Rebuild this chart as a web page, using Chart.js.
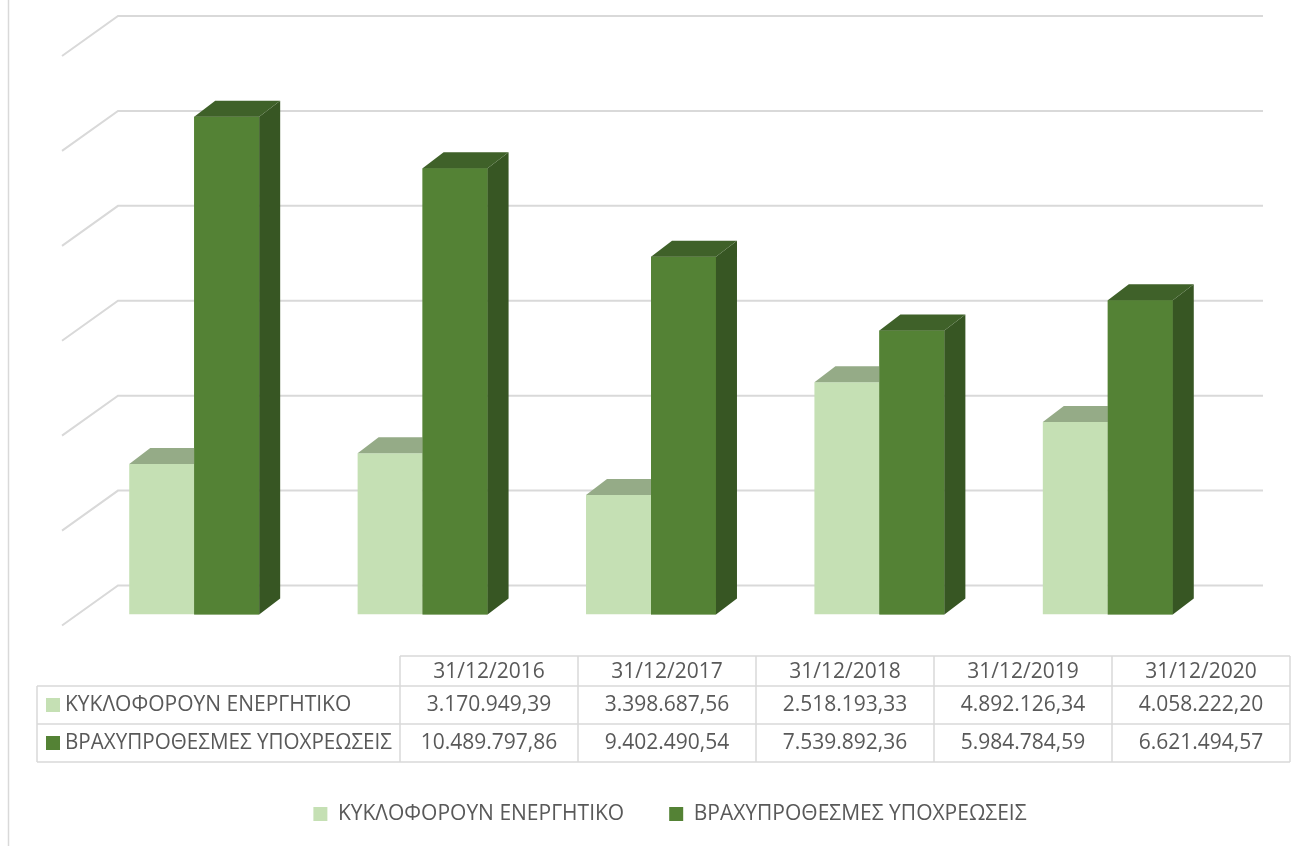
<!DOCTYPE html>
<html lang="el">
<head>
<meta charset="utf-8">
<title>Κυκλοφορούν ενεργητικό - Βραχυπρόθεσμες υποχρεώσεις</title>
<script src="https://cdn.jsdelivr.net/npm/chart.js@4.4.1/dist/chart.umd.min.js"></script>
<style>
  html, body { margin: 0; padding: 0; background: #fff; }
  #wrap { width: 1310px; height: 846px; }
</style>
</head>
<body>
<div id="wrap"><canvas id="chart" width="1310" height="846"></canvas></div>
<script>
// Data (values as printed in the table under the chart)
const categories = ['31/12/2016', '31/12/2017', '31/12/2018', '31/12/2019', '31/12/2020'];
const seriesNames = ['ΚΥΚΛΟΦΟΡΟΥΝ ΕΝΕΡΓΗΤΙΚΟ', 'ΒΡΑΧΥΠΡΟΘΕΣΜΕΣ ΥΠΟΧΡΕΩΣΕΙΣ'];
const currentAssets = [3170949.39, 3398687.56, 2518193.33, 4892126.34, 4058222.20];
const shortTermLiabilities = [10489797.86, 9402490.54, 7539892.36, 5984784.59, 6621494.57];
const yMax = 12000000;
const yStep = 2000000;

// colours: front / top / side
const shades = [
  { front: '#c5e0b4', top: '#95ab87', side: '#8aa37b' },
  { front: '#548235', top: '#3f6129', side: '#375623' }
];
const TEXT = '#595959';
const GRID = '#d9d9d9';
const FONT = '"Open Sans", "Noto Sans", sans-serif';

// 3D offsets
const DX = 21, DY = -16;

// 3.170.949,39 style
function fmt(v) {
  const [i, d] = v.toFixed(2).split('.');
  return i.replace(/\B(?=(\d{3})+(?!\d))/g, '.') + ',' + d;
}

function barBox(el) {
  const p = el.getProps(['x', 'y', 'base', 'width'], true);
  return { l: p.x - p.width / 2, r: p.x + p.width / 2, y: p.y, base: p.base };
}

function topFace(ctx, b, color) {
  ctx.fillStyle = color;
  ctx.beginPath();
  ctx.moveTo(b.l, b.y);
  ctx.lineTo(b.l + DX, b.y + DY);
  ctx.lineTo(b.r + DX, b.y + DY);
  ctx.lineTo(b.r, b.y);
  ctx.closePath();
  ctx.fill();
}

function sideFace(ctx, b, color) {
  ctx.fillStyle = color;
  ctx.beginPath();
  ctx.moveTo(b.r, b.y);
  ctx.lineTo(b.r + DX, b.y + DY);
  ctx.lineTo(b.r + DX, b.base + DY);
  ctx.lineTo(b.r, b.base);
  ctx.closePath();
  ctx.fill();
}

// back wall gridlines + frame line on the left
const backWall = {
  id: 'backWall',
  beforeDraw(chart) {
    const ctx = chart.ctx;
    ctx.save();
    ctx.strokeStyle = GRID;
    ctx.lineWidth = 1.5;
    ctx.beginPath();
    ctx.moveTo(8.5, 0);
    ctx.lineTo(8.5, chart.height);
    ctx.stroke();
    ctx.restore();
  },
  beforeDatasetsDraw(chart) {
    const { ctx, chartArea, scales: { y } } = chart;
    const x0 = chartArea.left + 38, x1 = chartArea.right + 41;
    ctx.save();
    ctx.strokeStyle = GRID;
    ctx.lineWidth = 2;
    y.ticks.forEach(t => {
      const py = y.getPixelForValue(t.value) - 29;
      ctx.beginPath();
      ctx.moveTo(x0 - 56, py + 40);
      ctx.lineTo(x0, py);
      ctx.lineTo(x1, py);
      ctx.stroke();
    });
    ctx.restore();
  }
};

// top and side faces of the columns
const columns3d = {
  id: 'columns3d',
  afterDatasetsDraw(chart) {
    const ctx = chart.ctx;
    const light = chart.getDatasetMeta(0).data;
    const dark = chart.getDatasetMeta(1).data;
    ctx.save();
    light.forEach((el, i) => {
      const a = barBox(el);
      sideFace(ctx, a, shades[0].side);
      topFace(ctx, a, shades[0].top);
      dark[i].draw(ctx);
      const b = barBox(dark[i]);
      sideFace(ctx, b, shades[1].side);
      topFace(ctx, b, shades[1].top);
    });
    ctx.restore();
  }
};

// data table under the plot
const dataTable = {
  id: 'dataTable',
  afterDraw(chart) {
    const ctx = chart.ctx;
    const left = 37, first = 400, right = 1290;
    const rowsY = [656, 686, 724, 762];
    const colW = (right - first) / categories.length;
    const series = [currentAssets, shortTermLiabilities];

    ctx.save();
    ctx.strokeStyle = GRID;
    ctx.lineWidth = 1.5;
    ctx.beginPath();
    // horizontal lines
    ctx.moveTo(first, rowsY[0]); ctx.lineTo(right, rowsY[0]);
    for (let r = 1; r < rowsY.length; r++) {
      ctx.moveTo(left, rowsY[r]); ctx.lineTo(right, rowsY[r]);
    }
    // vertical lines
    ctx.moveTo(left, rowsY[1]); ctx.lineTo(left, rowsY[3]);
    for (let c = 0; c <= categories.length; c++) {
      const x = first + c * colW;
      ctx.moveTo(x, rowsY[0]); ctx.lineTo(x, rowsY[3]);
    }
    ctx.stroke();

    ctx.fillStyle = TEXT;
    ctx.font = '21px ' + FONT;
    ctx.textBaseline = 'middle';
    ctx.textAlign = 'center';
    categories.forEach((c, i) => {
      ctx.fillText(c, first + colW * (i + 0.5), (rowsY[0] + rowsY[1]) / 2 + 1);
    });
    series.forEach((vals, s) => {
      const cy = (rowsY[s + 1] + rowsY[s + 2]) / 2;
      vals.forEach((v, i) => {
        ctx.fillText(fmt(v), first + colW * (i + 0.5), cy);
      });
      ctx.fillStyle = shades[s].front;
      ctx.fillRect(46, cy - 7, 14, 14);
      ctx.fillStyle = TEXT;
      ctx.textAlign = 'left';
      ctx.fillText(seriesNames[s], 65, cy, first - 65 - 8);
      ctx.textAlign = 'center';
    });
    ctx.restore();
  }
};

new Chart(document.getElementById('chart'), {
  type: 'bar',
  data: {
    labels: categories,
    datasets: [
      { label: seriesNames[0], data: currentAssets, backgroundColor: shades[0].front, borderWidth: 0 },
      { label: seriesNames[1], data: shortTermLiabilities, backgroundColor: shades[1].front, borderWidth: 0 }
    ]
  },
  options: {
    responsive: false,
    animation: false,
    devicePixelRatio: 1,
    categoryPercentage: 0.569,
    barPercentage: 1,
    layout: { padding: { top: 45, left: 80, right: 50, bottom: 11.5 } },
    scales: {
      x: {
        grid: { display: false },
        border: { display: false },
        ticks: { display: false },
        afterFit(s) { s.height = 144; }
      },
      y: {
        position: 'right',
        min: 0,
        max: yMax,
        ticks: { stepSize: yStep, display: false },
        grid: { display: false },
        border: { display: false },
        afterFit(s) { s.width = 38; }
      }
    },
    plugins: {
      legend: {
        position: 'bottom',
        labels: {
          color: TEXT,
          font: { family: FONT, size: 21 },
          boxWidth: 14,
          boxHeight: 14,
          padding: 45
        }
      },
      tooltip: { enabled: false }
    }
  },
  plugins: [backWall, columns3d, dataTable]
});
</script>
</body>
</html>
